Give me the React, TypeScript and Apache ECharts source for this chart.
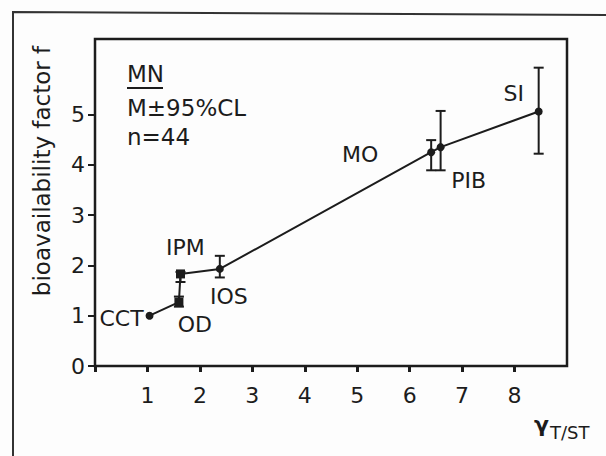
import React, { useEffect, useRef } from "react";
import * as echarts from "echarts";

// ---- data ----
const pointNames = ["CCT", "OD", "IPM", "IOS", "MO", "PIB", "SI"];
const xValues = [1.04, 1.6, 1.63, 2.38, 6.41, 6.59, 8.46];
const yValues = [1.0, 1.27, 1.83, 1.93, 4.25, 4.35, 5.06];
const lowerCL: (number | null)[] = [null, 1.18, 1.67, 1.76, 3.89, 3.89, 4.22];
const upperCL: (number | null)[] = [null, 1.38, 1.87, 2.19, 4.49, 5.07, 5.93];
const xTickLabels = [1, 2, 3, 4, 5, 6, 7, 8];
const yTickLabels = [0, 1, 2, 3, 4, 5];

// ---- presentation (not data) ----
const markerShapes = ["circle", "rect", "rect", "circle", "circle", "circle", "circle"];
const labelOffsets = [
  [-28, 3],
  [16, 22],
  [5, -26],
  [9, 28],
  [-71, 2],
  [28, 33],
  [-25, -18],
];

const INK = "#1c1c1c";
const FONT = "DejaVu Sans";

export default function App() {
  const ref = useRef<HTMLDivElement>(null);

  useEffect(() => {
    if (!ref.current) return;
    const chart = echarts.init(ref.current, null, { renderer: "svg" });

    const lineData = xValues.map((x, i) => ({
      value: [x, yValues[i]],
      name: pointNames[i],
      symbol: markerShapes[i],
      symbolSize: markerShapes[i] === "rect" ? 9 : 8,
      label: {
        show: true,
        position: "inside",
        offset: labelOffsets[i],
        formatter: pointNames[i],
        color: INK,
        fontFamily: FONT,
        fontSize: 22,
        align: "center",
        verticalAlign: "middle",
      },
    }));

    const errData = xValues
      .map((x, i) => [x, lowerCL[i], upperCL[i]])
      .filter((d) => d[1] !== null && d[2] !== null);

    const option: any = {
      animation: false,
      backgroundColor: "#fdfdfd",
      grid: {
        left: 95,
        top: 39,
        right: 39,
        bottom: 90,
        show: true,
        borderColor: INK,
        borderWidth: 2.5,
        backgroundColor: "transparent",
      },
      xAxis: {
        type: "value",
        min: 0,
        max: 9,
        interval: 1,
        splitLine: { show: false },
        axisLine: { show: false },
        axisTick: {
          show: true,
          inside: false,
          length: 6,
          lineStyle: { color: INK, width: 3 },
          customValues: [0, ...xTickLabels],
        },
        axisLabel: {
          show: true,
          customValues: xTickLabels,
          margin: 18,
          color: INK,
          fontFamily: FONT,
          fontSize: 22,
        },
      },
      yAxis: {
        type: "value",
        min: 0,
        max: 6.5,
        interval: 1,
        splitLine: { show: false },
        axisLine: { show: false },
        axisTick: {
          show: true,
          inside: false,
          length: 7,
          lineStyle: { color: INK, width: 2 },
          customValues: yTickLabels,
        },
        axisLabel: {
          show: true,
          customValues: yTickLabels,
          margin: 10,
          color: INK,
          fontFamily: FONT,
          fontSize: 22,
        },
      },
      series: [
        {
          type: "custom",
          data: errData,
          z: 2,
          renderItem: (params: any, api: any) => {
            const x = api.value(0);
            const lo = api.coord([x, api.value(1)]);
            const hi = api.coord([x, api.value(2)]);
            const hw = 5;
            const st = { stroke: INK, lineWidth: 2 };
            return {
              type: "group",
              children: [
                { type: "line", shape: { x1: lo[0], y1: lo[1], x2: hi[0], y2: hi[1] }, style: st },
                { type: "line", shape: { x1: lo[0] - hw, y1: lo[1], x2: lo[0] + hw, y2: lo[1] }, style: st },
                { type: "line", shape: { x1: hi[0] - hw, y1: hi[1], x2: hi[0] + hw, y2: hi[1] }, style: st },
              ],
            };
          },
        },
        {
          type: "line",
          data: lineData,
          z: 3,
          showSymbol: true,
          showAllSymbol: true,
          lineStyle: { color: INK, width: 2 },
          itemStyle: { color: INK },
        },
      ],
      graphic: [
        {
          type: "polyline",
          shape: { points: [[13, 456], [13, 12], [606, 15]] },
          style: { stroke: "#333", lineWidth: 2, fill: "none" },
        },
        {
          type: "text",
          x: 42,
          y: 171,
          rotation: Math.PI / 2,
          style: {
            text: "bioavailability factor f",
            fill: INK,
            font: `23px '${FONT}'`,
            align: "center",
            verticalAlign: "middle",
          },
        },
        {
          type: "text",
          x: 127,
          y: 74,
          style: { text: "MN", fill: INK, font: `23px '${FONT}'`, align: "left", verticalAlign: "middle" },
        },
        {
          type: "line",
          shape: { x1: 127, y1: 88, x2: 163, y2: 88 },
          style: { stroke: INK, lineWidth: 2 },
        },
        {
          type: "text",
          x: 127,
          y: 108,
          style: { text: "M±95%CL", fill: INK, font: `23px '${FONT}'`, align: "left", verticalAlign: "middle" },
        },
        {
          type: "text",
          x: 127,
          y: 137,
          style: { text: "n=44", fill: INK, font: `23px '${FONT}'`, align: "left", verticalAlign: "middle" },
        },
        {
          type: "text",
          x: 534,
          y: 424,
          style: { text: "γ", fill: INK, font: `bold 22px '${FONT}'`, align: "left", verticalAlign: "middle" },
        },
        {
          type: "text",
          x: 550,
          y: 432,
          style: { text: "T/ST", fill: INK, font: `18px '${FONT}'`, align: "left", verticalAlign: "middle" },
        },
      ],
    };

    chart.setOption(option);
    return () => chart.dispose();
  }, []);

  return (
    <div
      ref={ref}
      style={{ position: "fixed", left: 0, top: 0, width: 606, height: 456 }}
    />
  );
}
